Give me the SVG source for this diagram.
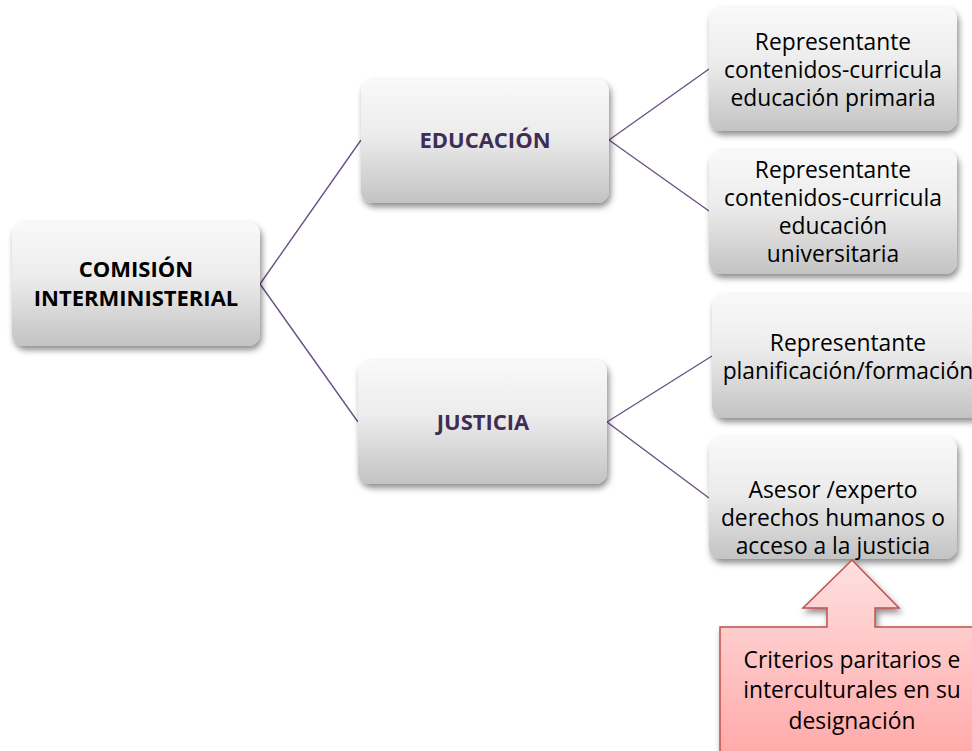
<svg xmlns="http://www.w3.org/2000/svg" width="972" height="751" viewBox="0 0 972 751">
<defs>
<linearGradient id="g" x1="0" y1="0" x2="0" y2="1">
<stop offset="0" stop-color="#f9f9f9"/>
<stop offset="0.45" stop-color="#ececec"/>
<stop offset="1" stop-color="#c3c3c3"/>
</linearGradient>
<linearGradient id="r" x1="0" y1="0" x2="0" y2="1">
<stop offset="0" stop-color="#ffe0e0"/>
<stop offset="1" stop-color="#ffa8a8"/>
</linearGradient>
<filter id="sh" x="-10%" y="-10%" width="125%" height="135%">
<feDropShadow dx="2" dy="4" stdDeviation="3" flood-color="#000" flood-opacity="0.45"/>
</filter>
</defs>
<style>
.box{fill:url(#g);filter:url(#sh)}
.t{font-family:"Open Sans","Noto Sans",sans-serif;font-size:22.8px;fill:#000;text-anchor:middle}
.b{font-family:"Open Sans","Noto Sans",sans-serif;font-size:22px;font-weight:bold;text-anchor:middle}
.p{fill:#3f2d55}
.c{stroke:#6a5285;stroke-width:1.4;fill:none}
</style>
<rect width="972" height="751" fill="#fff"/>
<g id="connectors">
<path class="c" d="M260 284 L361 140 M260 284 L358 422 M609 140 L709 69 M609 140 L709 211 M607 422 L712 356 M607 422 L709 498"/>
</g>
<g id="comision">
<rect class="box" x="12" y="222" width="248" height="124" rx="12"/>
<text class="b" x="136" y="277">COMISIÓN</text>
<text class="b" x="136" y="306">INTERMINISTERIAL</text>
</g>
<g id="educacion">
<rect class="box" x="361" y="79" width="248" height="124" rx="12"/>
<text class="b p" x="485" y="148">EDUCACIÓN</text>
</g>
<g id="justicia">
<rect class="box" x="358" y="360" width="249" height="124" rx="12"/>
<text class="b p" x="483" y="430">JUSTICIA</text>
</g>
<g id="primaria">
<rect class="box" x="709" y="7" width="248" height="124" rx="12"/>
<text class="t" x="833" y="50">Representante</text>
<text class="t" x="833" y="78">contenidos-curricula</text>
<text class="t" x="833" y="106">educación primaria</text>
</g>
<g id="universitaria">
<rect class="box" x="709" y="150" width="248" height="124" rx="12"/>
<text class="t" x="833" y="178">Representante</text>
<text class="t" x="833" y="206">contenidos-curricula</text>
<text class="t" x="833" y="234">educación</text>
<text class="t" x="833" y="262">universitaria</text>
</g>
<g id="planificacion">
<rect class="box" x="712" y="294" width="272" height="124" rx="12"/>
<text class="t" x="848" y="351">Representante</text>
<text class="t" x="848" y="379">planificación/formación</text>
</g>
<g id="asesor">
<rect class="box" x="709" y="437" width="248" height="122" rx="12"/>
<text class="t" x="833" y="498">Asesor /experto</text>
<text class="t" x="833" y="526">derechos humanos o</text>
<text class="t" x="833" y="554">acceso a la justicia</text>
</g>
<g id="criterios">
<path d="M720 627 L827 627 L827 608 L803 608 L852 560 L899 608 L875 608 L875 627 L984 627 L984 760 L720 760 Z" fill="url(#r)" stroke="#c0504d" stroke-width="1.5" filter="url(#sh)"/>
<text class="t" x="852" y="668">Criterios paritarios e</text>
<text class="t" x="852" y="698">interculturales en su</text>
<text class="t" x="852" y="729">designación</text>
</g>
</svg>
